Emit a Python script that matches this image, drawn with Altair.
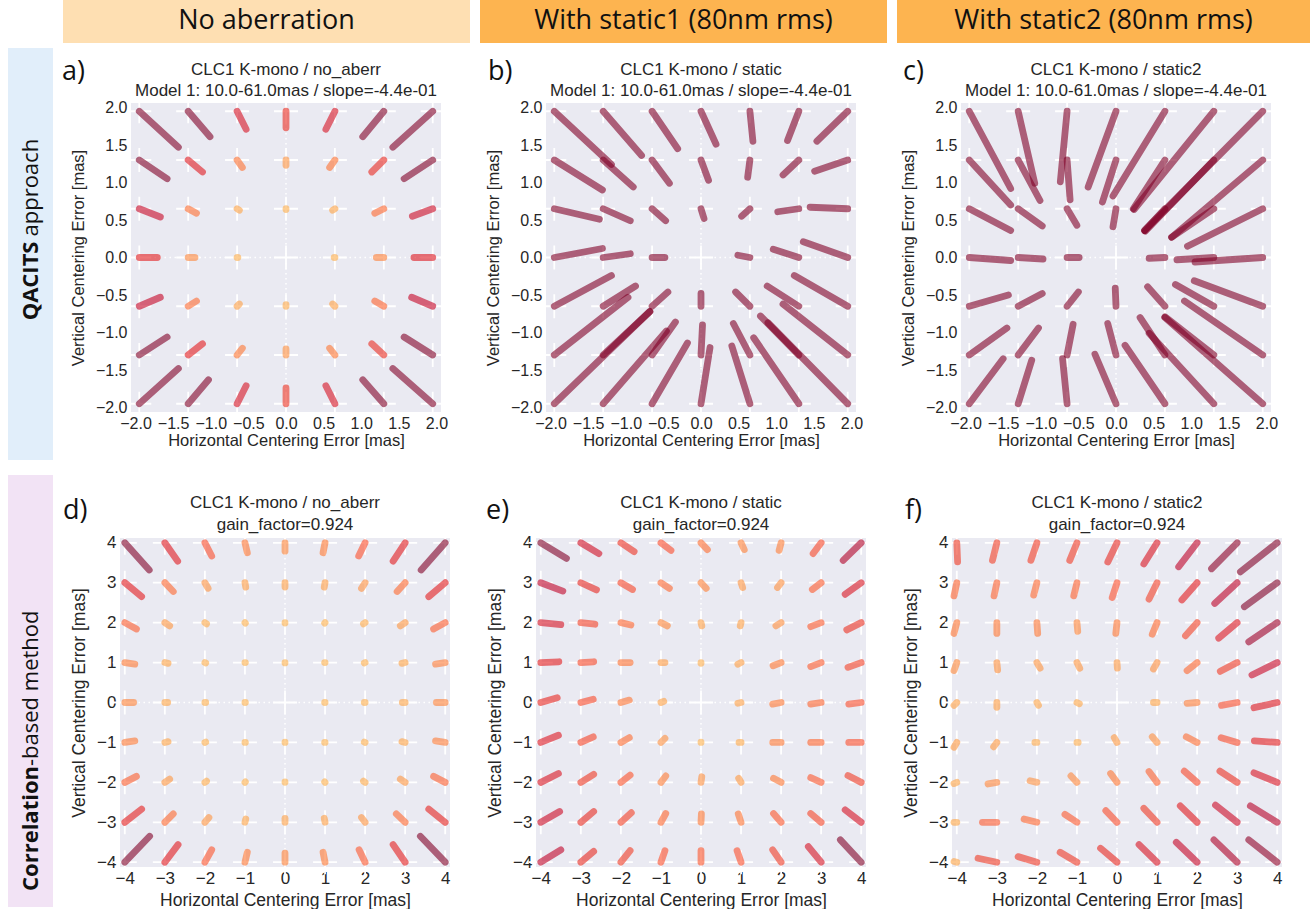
import altair as alt
import pandas as pd

# ---------------- data ----------------
TOP_GRID = [-1.95, -1.3, -0.65, 0.0, 0.65, 1.3, 1.95]
BOT_GRID = [-4, -3, -2, -1, 0, 1, 2, 3, 4]
TOP_TICKS = [-2.0, -1.5, -1.0, -0.5, 0.0, 0.5, 1.0, 1.5, 2.0]
BOT_TICKS = [-4, -3, -2, -1, 0, 1, 2, 3, 4]

# rows: from top (largest y) to bottom; columns: from left (smallest x) to right
A_DX = [[0.52, 0.29, 0.12, 0.0, -0.12, -0.28, -0.53],
        [0.37, 0.19, 0.07, 0.0, -0.07, -0.16, -0.38],
        [0.28, 0.11, 0.03, 0.0, -0.03, -0.12, -0.27],
        [0.24, 0.09, 0.01, 0.0, -0.01, -0.10, -0.25],
        [0.28, 0.11, 0.03, 0.0, -0.03, -0.12, -0.28],
        [0.37, 0.19, 0.07, 0.0, -0.07, -0.16, -0.38],
        [0.52, 0.27, 0.12, 0.0, -0.12, -0.28, -0.53]]
A_DY = [[-0.48, -0.34, -0.24, -0.22, -0.24, -0.34, -0.48],
        [-0.25, -0.16, -0.10, -0.07, -0.10, -0.16, -0.25],
        [-0.11, -0.06, -0.02, -0.01, -0.02, -0.06, -0.10],
        [0.0, 0.0, 0.0, 0.0, 0.0, 0.0, 0.0],
        [0.12, 0.07, 0.03, 0.02, 0.03, 0.07, 0.12],
        [0.24, 0.15, 0.09, 0.08, 0.09, 0.15, 0.24],
        [0.47, 0.32, 0.24, 0.21, 0.24, 0.32, 0.47]]

B_DX = [[0.76, 0.51, 0.34, 0.20, 0.04, -0.15, -0.41],
        [0.64, 0.40, 0.23, 0.10, -0.03, -0.21, -0.44],
        [0.60, 0.36, 0.18, 0.04, -0.11, -0.28, -0.50],
        [0.64, 0.36, 0.17, 0.0, -0.16, -0.34, -0.59],
        [0.76, 0.43, 0.21, 0.0, -0.19, -0.42, -0.71],
        [0.98, 0.62, 0.31, 0.02, -0.22, -0.51, -0.86],
        [1.27, 0.84, 0.47, 0.12, -0.24, -0.60, -1.06]]
B_DY = [[-0.71, -0.59, -0.50, -0.44, -0.40, -0.39, -0.40],
        [-0.40, -0.36, -0.31, -0.27, -0.23, -0.20, -0.15],
        [-0.14, -0.16, -0.16, -0.13, -0.10, -0.04, 0.02],
        [0.12, 0.05, 0.0, 0.0, 0.03, 0.11, 0.21],
        [0.41, 0.27, 0.19, 0.17, 0.19, 0.27, 0.41],
        [0.77, 0.58, 0.44, 0.40, 0.42, 0.52, 0.68],
        [1.23, 0.97, 0.81, 0.75, 0.77, 0.88, 1.08]]

C_DX = [[0.55, 0.22, -0.09, -0.37, -0.69, -1.06, -1.57],
        [0.55, 0.29, 0.04, -0.18, -0.42, -0.91, -1.21],
        [0.55, 0.32, 0.13, -0.04, -0.27, -0.56, -1.00],
        [0.55, 0.33, 0.16, 0.0, -0.21, -0.49, -0.90],
        [0.52, 0.32, 0.15, -0.01, -0.23, -0.51, -0.91],
        [0.50, 0.27, 0.08, -0.11, -0.33, -0.65, -1.04],
        [0.45, 0.18, -0.06, -0.28, -0.53, -0.86, -1.30]]
C_DY = [[-1.03, -0.96, -0.94, -1.01, -1.13, -1.31, -1.59],
        [-0.60, -0.54, -0.53, -0.56, -0.65, -0.95, -1.03],
        [-0.29, -0.23, -0.22, -0.24, -0.29, -0.38, -0.50],
        [-0.04, -0.02, 0.0, 0.0, -0.01, -0.03, -0.06],
        [0.15, 0.17, 0.19, 0.24, 0.26, 0.29, 0.34],
        [0.36, 0.36, 0.41, 0.42, 0.50, 0.51, 0.72],
        [0.60, 0.58, 0.60, 0.66, 0.78, 0.94, 1.15]]

D_DX = [[0.61, 0.32, 0.17, 0.06, 0.0, -0.05, -0.16, -0.30, -0.60],
        [0.42, 0.21, 0.08, 0.02, 0.0, -0.02, -0.09, -0.20, -0.41],
        [0.29, 0.12, 0.04, 0.01, 0.0, -0.01, -0.04, -0.12, -0.29],
        [0.25, 0.08, 0.02, 0.01, 0.0, -0.01, -0.02, -0.08, -0.24],
        [0.22, 0.07, 0.02, 0.01, 0.0, -0.01, -0.02, -0.07, -0.22],
        [0.25, 0.08, 0.02, 0.01, 0.0, -0.01, -0.02, -0.08, -0.24],
        [0.29, 0.12, 0.04, 0.01, 0.0, -0.01, -0.04, -0.12, -0.29],
        [0.42, 0.21, 0.10, 0.02, 0.0, -0.02, -0.09, -0.22, -0.41],
        [0.62, 0.33, 0.17, 0.06, 0.0, -0.05, -0.15, -0.30, -0.62]]
D_DY = [[-0.68, -0.46, -0.33, -0.25, -0.21, -0.25, -0.33, -0.46, -0.68],
        [-0.35, -0.22, -0.14, -0.11, -0.11, -0.11, -0.14, -0.22, -0.35],
        [-0.16, -0.08, -0.03, -0.01, -0.01, -0.01, -0.03, -0.08, -0.16],
        [-0.04, -0.02, -0.01, 0.0, -0.01, 0.0, -0.01, -0.02, -0.04],
        [0.0, 0.0, 0.0, 0.0, 0.0, 0.0, 0.0, 0.0, 0.0],
        [0.04, 0.02, 0.01, 0.0, 0.01, 0.0, 0.01, 0.02, 0.04],
        [0.15, 0.08, 0.03, 0.01, 0.01, 0.01, 0.03, 0.08, 0.15],
        [0.33, 0.21, 0.12, 0.08, 0.10, 0.10, 0.12, 0.21, 0.33],
        [0.65, 0.44, 0.31, 0.25, 0.23, 0.25, 0.31, 0.44, 0.65]]

E_DX = [[0.64, 0.45, 0.33, 0.25, 0.16, 0.08, -0.05, -0.20, -0.45],
        [0.55, 0.39, 0.29, 0.21, 0.13, 0.04, -0.09, -0.22, -0.40],
        [0.50, 0.35, 0.25, 0.16, 0.02, -0.02, -0.13, -0.26, -0.36],
        [0.45, 0.32, 0.23, 0.10, 0.0, -0.08, -0.20, -0.26, -0.33],
        [0.41, 0.31, 0.21, 0.07, 0.0, -0.08, -0.21, -0.26, -0.31],
        [0.44, 0.31, 0.21, 0.10, 0.0, -0.05, -0.21, -0.26, -0.31],
        [0.44, 0.32, 0.23, 0.12, 0.02, -0.06, -0.19, -0.26, -0.33],
        [0.47, 0.32, 0.26, 0.12, 0.01, -0.07, -0.19, -0.26, -0.40],
        [0.50, 0.32, 0.23, 0.10, 0.0, -0.10, -0.21, -0.32, -0.52]]
E_DY = [[-0.39, -0.27, -0.22, -0.19, -0.17, -0.17, -0.19, -0.27, -0.44],
        [-0.21, -0.18, -0.17, -0.14, -0.14, -0.12, -0.12, -0.17, -0.29],
        [-0.05, -0.04, -0.06, -0.08, -0.08, -0.08, -0.08, -0.10, -0.18],
        [0.02, 0.02, 0.0, 0.0, -0.02, -0.04, -0.08, -0.10, -0.12],
        [0.12, 0.08, 0.06, 0.03, 0.0, -0.02, -0.04, -0.04, -0.04],
        [0.18, 0.14, 0.12, 0.10, 0.01, 0.0, 0.0, 0.0, 0.0],
        [0.22, 0.20, 0.18, 0.16, 0.14, 0.10, 0.10, 0.12, 0.17],
        [0.27, 0.27, 0.24, 0.22, 0.21, 0.21, 0.22, 0.22, 0.31],
        [0.31, 0.27, 0.29, 0.29, 0.29, 0.29, 0.31, 0.39, 0.56]]

F_DX = [[0.02, -0.11, -0.15, -0.18, -0.23, -0.33, -0.46, -0.64, -0.92],
        [-0.07, -0.07, -0.08, -0.08, -0.12, -0.20, -0.38, -0.56, -0.82],
        [-0.07, 0.0, 0.02, 0.02, -0.03, -0.12, -0.29, -0.46, -0.71],
        [-0.07, 0.02, 0.08, 0.07, 0.01, -0.09, -0.25, -0.42, -0.63],
        [-0.07, 0.0, 0.04, 0.06, 0.0, -0.09, -0.25, -0.39, -0.58],
        [-0.07, -0.08, -0.05, 0.03, -0.07, -0.12, -0.27, -0.40, -0.57],
        [-0.07, -0.22, -0.17, -0.15, -0.16, -0.20, -0.32, -0.43, -0.58],
        [-0.07, -0.36, -0.32, -0.30, -0.28, -0.33, -0.42, -0.54, -0.67],
        [-0.07, -0.47, -0.47, -0.42, -0.41, -0.45, -0.52, -0.58, -0.71]]
F_DY = [[-0.48, -0.44, -0.44, -0.44, -0.48, -0.53, -0.60, -0.65, -0.73],
        [-0.33, -0.33, -0.31, -0.33, -0.37, -0.41, -0.43, -0.52, -0.60],
        [-0.27, -0.27, -0.27, -0.22, -0.27, -0.29, -0.33, -0.39, -0.48],
        [-0.20, -0.18, -0.14, -0.14, -0.14, -0.16, -0.20, -0.22, -0.31],
        [-0.07, -0.12, -0.07, -0.03, 0.0, 0.0, -0.02, -0.07, -0.13],
        [-0.12, -0.11, 0.0, 0.0, 0.12, 0.14, 0.14, 0.12, 0.04],
        [-0.03, -0.04, 0.04, 0.16, 0.22, 0.27, 0.28, 0.28, 0.24],
        [0.0, 0.0, 0.08, 0.20, 0.29, 0.35, 0.41, 0.43, 0.41],
        [0.02, 0.10, 0.14, 0.25, 0.35, 0.44, 0.50, 0.56, 0.56]]

HEADERS = ["No aberration", "With static1 (80nm rms)", "With static2 (80nm rms)"]
ROW_BOLD = ["QACITS", "Correlation"]
ROW_REG = ["approach", "-based method"]
TITLE1 = ["CLC1 K-mono / no_aberr", "CLC1 K-mono / static", "CLC1 K-mono / static2"]
TITLE2_TOP = "Model 1: 10.0-61.0mas / slope=-4.4e-01"
TITLE2_BOT = "gain_factor=0.924"
LETTERS = ["a)", "b)", "c)", "d)", "e)", "f)"]

# ---------------- styling ----------------
BG = "#EAEAF2"
YLORRD = ["#feb24c", "#fd8d3c", "#fc4e2a", "#e31a1c", "#bd0026", "#800026"]
TXT = "#262626"
SANS = "Liberation Sans"
HEADFONT = "Open Sans"


def build_df(grid, DX, DY):
    rows = []
    ys = grid[::-1]
    for i, y in enumerate(ys):
        for j, x in enumerate(grid):
            dx, dy = DX[i][j], DY[i][j]
            rows.append(dict(x=x, y=y, xe=x + dx, ye=y + dy,
                             len=(dx * dx + dy * dy) ** 0.5))
    return pd.DataFrame(rows)


def txt(s, x, y, **kw):
    d = pd.DataFrame({"t": [s]})
    return alt.Chart(d).mark_text(**kw).encode(x=alt.value(x), y=alt.value(y), text="t:N")


def row_label_layers(bold, reg, fill, x0, x1, y0, y1, mid, gap):
    d = pd.DataFrame({"a": [0]})
    xc = (x0 + x1) / 2
    rect = alt.Chart(d).mark_rect(fill=fill).encode(
        x=alt.value(x0), x2=alt.value(x1), y=alt.value(y0), y2=alt.value(y1))
    t1 = txt(bold, xc, mid + gap, angle=270, align="right", baseline="middle",
             fontWeight="bold", fontSize=22, font=HEADFONT, color="#111")
    t2 = txt(reg, xc, mid - gap, angle=270, align="left", baseline="middle",
             fontWeight="normal", fontSize=22, font=HEADFONT, color="#111")
    return [rect, t1, t2]


def panel(df, dom, ticks, fmt, cmax, title, letter, ldx, ldy, w, h, ty, ax,
          header=None, rowlab=None, cross=24):
    lfs, tfs, xlp, xtp, ylp, ytp = ax
    xs = alt.Scale(domain=dom, nice=False, zero=False)
    ys = alt.Scale(domain=dom, nice=False, zero=False)
    xax = alt.Axis(values=ticks, format=fmt, title="Horizontal Centering Error [mas]",
                   labelFontSize=lfs, titleFontSize=tfs, labelPadding=xlp, titlePadding=xtp)
    yax = alt.Axis(values=ticks, format=fmt, title="Vertical Centering Error [mas]",
                   labelFontSize=lfs, titleFontSize=tfs, labelPadding=ylp, titlePadding=ytp)
    X = alt.X("x:Q", scale=xs, axis=xax)
    Y = alt.Y("y:Q", scale=ys, axis=yax)
    base = alt.Chart(df)
    crosses = base.mark_point(shape="M-1,0L1,0M0,-1L0,1", size=cross * cross,
                              color="white", strokeWidth=1.8, filled=False,
                              opacity=1).encode(x=X, y=Y)
    zero = pd.DataFrame({"x": [0.0], "y": [0.0]})
    vline = alt.Chart(zero).mark_rule(color="white", strokeDash=[1.5, 3.5],
                                      strokeWidth=1.5).encode(x=X)
    hline = alt.Chart(zero).mark_rule(color="white", strokeDash=[1.5, 3.5],
                                      strokeWidth=1.5).encode(y=Y)
    cdom = [cmax * k / 5 for k in range(6)]
    segs = base.transform_filter("datum.len > 0").mark_rule(
        strokeCap="round", strokeWidth=6.8, opacity=0.6).encode(
        x=X, y=Y, x2="xe:Q", y2="ye:Q",
        color=alt.Color("len:Q", scale=alt.Scale(domain=cdom, range=YLORRD, clamp=True),
                        legend=None))
    let = txt(letter, ldx, ldy, align="left", baseline="middle", fontSize=27,
              font=HEADFONT, color="#111")
    tl1 = txt(title[0], w / 2, ty[0], align="center", baseline="middle", fontSize=17,
              font=SANS, color=TXT)
    tl2 = txt(title[1], w / 2, ty[1], align="center", baseline="middle", fontSize=17,
              font=SANS, color=TXT)
    layers = [crosses, vline, hline, segs, let, tl1, tl2]
    if header is not None:
        htxt, hfill, hx0, hx1 = header
        d = pd.DataFrame({"a": [0]})
        hr = alt.Chart(d).mark_rect(fill=hfill).encode(
            x=alt.value(hx0), x2=alt.value(hx1), y=alt.value(-103), y2=alt.value(-60))
        ht = txt(htxt, (hx0 + hx1) / 2, -82, fontSize=27, font=HEADFONT, color="#111",
                 baseline="middle", align="center")
        layers = [hr, ht] + layers
    if rowlab is not None:
        layers = row_label_layers(*rowlab) + layers
    return alt.layer(*layers).properties(
        width=w, height=h, view=alt.ViewBackground(fill=BG, stroke=None))


def spacer(w):
    d = pd.DataFrame({"a": [0]})
    return alt.Chart(d).mark_point(opacity=0, size=1).encode(
        x=alt.value(12), y=alt.value(0)).properties(
        width=w, height=1, view=alt.ViewBackground(fill=None, stroke=None))


TOP_DOM = [-2.06, 2.06]
BOT_DOM = [-4.12, 4.12]
dfs_top = [build_df(TOP_GRID, A_DX, A_DY), build_df(TOP_GRID, B_DX, B_DY),
           build_df(TOP_GRID, C_DX, C_DY)]
dfs_bot = [build_df(BOT_GRID, D_DX, D_DY), build_df(BOT_GRID, E_DX, E_DY),
           build_df(BOT_GRID, F_DX, F_DY)]
cmax_top = [0.4, 0.05, 0.05]
cmax_bot = [0.9, 0.75, 0.95]
let_top = [(-69, -31), (-58, -31), (-58, -31)]
let_bot = [(-57, -27), (-50, -27), (-47, -27)]
hdr = [(HEADERS[0], "#FEDFB2", -68, 339),
       (HEADERS[1], "#FDB450", -66, 341),
       (HEADERS[2], "#FDB450", -64, 349)]
rowlabs_top = [(ROW_BOLD[0], ROW_REG[0], "#E1EEFA", -123, -78, -55, 357, 136, 2.5), None, None]
rowlabs_bot = [(ROW_BOLD[1], ROW_REG[1], "#F2E3F5", -112, -67, -63, 369, 228, 0), None, None]
ax_top = (16, 16.5, 3, 1, 4, 9)
ax_bot = (17, 17.5, 3, 5, 4, 8)

top_panels = [panel(dfs_top[i], TOP_DOM, TOP_TICKS, ".1f", cmax_top[i],
                    [TITLE1[i], TITLE2_TOP], LETTERS[i], let_top[i][0], let_top[i][1],
                    310, 309, (-33, -12), ax_top, header=hdr[i], rowlab=rowlabs_top[i])
              for i in range(3)]
bot_panels = [panel(dfs_bot[i], BOT_DOM, BOT_TICKS, "d", cmax_bot[i],
                    [TITLE1[i], TITLE2_BOT], LETTERS[3 + i], let_bot[i][0], let_bot[i][1],
                    330, 329, (-35, -13), ax_bot, rowlab=rowlabs_bot[i]) for i in range(3)]

# spacers shift the first panel of each row (rows share their origin in the vconcat)
row1 = alt.hconcat(spacer(20), *top_panels, spacing=105,
                   bounds="flush").resolve_scale(color="independent")
row2 = alt.hconcat(spacer(28), *bot_panels, spacing=86,
                   bounds="flush").resolve_scale(color="independent")

chart = alt.vconcat(row1, row2, spacing=15).resolve_scale(
    color="independent").properties(
    padding={"left": 6, "top": 0, "right": 0, "bottom": 0}, background="white"
).configure_view(stroke=None).configure_axis(
    domain=False, ticks=False, tickSize=0, grid=False, labelFont=SANS,
    labelColor=TXT, titleFont=SANS, titleColor=TXT,
    titleFontWeight="normal", labelFlush=False, labelOverlap=False)

chart.save("out.html", embed_options={"renderer": "svg", "actions": False})
